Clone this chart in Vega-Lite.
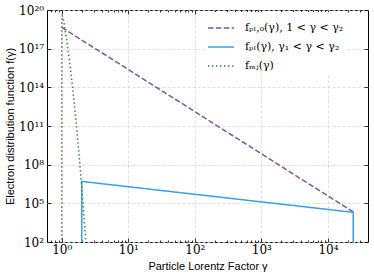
{
  "$schema": "https://vega.github.io/schema/vega-lite/v6.json",
  "width": 321,
  "height": 232,
  "autosize": {"type": "none"},
  "padding": {"left": 47, "top": 10, "right": 6, "bottom": 37},
  "background": "white",
  "config": {
    "view": {"stroke": "black", "strokeWidth": 1},
    "axis": {"domain": false}
  },
  "data": {
    "values": [
      {"s": "fₚₗ,₀(γ), 1 < γ < γ₂", "o": 0, "g": 1, "f": 4.47e18},
      {"s": "fₚₗ,₀(γ), 1 < γ < γ₂", "o": 1, "g": 24000, "f": 2.14e4},
      {"s": "fₚₗ(γ), γ₁ < γ < γ₂", "o": 0, "g": 2, "f": 1},
      {"s": "fₚₗ(γ), γ₁ < γ < γ₂", "o": 1, "g": 2, "f": 5.01e6},
      {"s": "fₚₗ(γ), γ₁ < γ < γ₂", "o": 2, "g": 24000, "f": 2.0e4},
      {"s": "fₚₗ(γ), γ₁ < γ < γ₂", "o": 3, "g": 24000, "f": 1},
      {"s": "fₘⱼ(γ)", "o": 0, "g": 1, "f": 1},
      {"s": "fₘⱼ(γ)", "o": 1, "g": 1.001, "f": 1.4e19},
      {"s": "fₘⱼ(γ)", "o": 2, "g": 1.005, "f": 2.8e19},
      {"s": "fₘⱼ(γ)", "o": 3, "g": 1.015, "f": 3.7e19},
      {"s": "fₘⱼ(γ)", "o": 4, "g": 1.03, "f": 3.3e19},
      {"s": "fₘⱼ(γ)", "o": 5, "g": 1.05, "f": 2.2e19},
      {"s": "fₘⱼ(γ)", "o": 6, "g": 1.1, "f": 6.0e18},
      {"s": "fₘⱼ(γ)", "o": 7, "g": 1.2, "f": 3.0e17},
      {"s": "fₘⱼ(γ)", "o": 8, "g": 1.3, "f": 1.3e16},
      {"s": "fₘⱼ(γ)", "o": 9, "g": 1.4, "f": 5.3e14},
      {"s": "fₘⱼ(γ)", "o": 10, "g": 1.5, "f": 2.1e13},
      {"s": "fₘⱼ(γ)", "o": 11, "g": 1.6, "f": 8.0e11},
      {"s": "fₘⱼ(γ)", "o": 12, "g": 1.7, "f": 3.0e10},
      {"s": "fₘⱼ(γ)", "o": 13, "g": 1.8, "f": 1.1e9},
      {"s": "fₘⱼ(γ)", "o": 14, "g": 1.9, "f": 4.0e7},
      {"s": "fₘⱼ(γ)", "o": 15, "g": 2.0, "f": 1.5e6},
      {"s": "fₘⱼ(γ)", "o": 16, "g": 2.1, "f": 5.5e4},
      {"s": "fₘⱼ(γ)", "o": 17, "g": 2.2, "f": 2.2e3},
      {"s": "fₘⱼ(γ)", "o": 18, "g": 2.3, "f": 100},
      {"s": "fₘⱼ(γ)", "o": 19, "g": 2.4, "f": 4}
    ]
  },
  "layer": [
    {
      "mark": {"type": "line", "clip": true, "strokeWidth": 1.5},
      "encoding": {
        "x": {
          "field": "g", "type": "quantitative",
          "scale": {"type": "log", "domain": [0.6, 40000], "nice": false},
          "axis": {
            "orient": "bottom",
            "values": [0.7,0.8,0.9,1,2,3,4,5,6,7,8,9,10,20,30,40,50,60,70,80,90,100,200,300,400,500,600,700,800,900,1000,2000,3000,4000,5000,6000,7000,8000,9000,10000,20000,30000],
            "title": "Particle Lorentz Factor γ",
            "titleFont": "Liberation Sans", "titleFontSize": 11, "titleFontWeight": "normal", "titleColor": "black",
            "titlePadding": 3,
            "labelFont": "DejaVu Serif", "labelFontSize": 12, "labelColor": "black",
            "labelOverlap": false, "labelFlush": false, "labelPadding": 6.5,
            "labelExpr": "abs(log(datum.value)/LN10 - round(log(datum.value)/LN10)) < 0.001 ? '10' + ['⁰','¹','²','³','⁴','⁵','⁶','⁷','⁸','⁹'][round(log(datum.value)/LN10)] : ''",
            "tickColor": "black", "tickWidth": 0.8,
            "tickSize": {"condition": {"test": "abs(log(datum.value)/LN10 - round(log(datum.value)/LN10)) < 0.001", "value": -4}, "value": -2},
            "grid": true, "gridColor": "#d6d6d6", "gridDash": [3, 2], "gridWidth": 0.8,
            "gridOpacity": {"condition": {"test": "abs(log(datum.value)/LN10 - round(log(datum.value)/LN10)) < 0.001", "value": 1}, "value": 0}
          }
        },
        "y": {
          "field": "f", "type": "quantitative",
          "scale": {"type": "log", "domain": [100, 1e20], "nice": false},
          "axis": {
            "orient": "left",
            "values": [1e2, 1e5, 1e8, 1e11, 1e14, 1e17, 1e20],
            "title": "Electron distribution function f(γ)",
            "titleFont": "Liberation Sans", "titleFontSize": 11, "titleFontWeight": "normal", "titleColor": "black",
            "titlePadding": 3,
            "labelFont": "DejaVu Serif", "labelFontSize": 12, "labelColor": "black",
            "labelOverlap": false, "labelFlush": false, "labelPadding": 7.5,
            "labelExpr": "'10' + (round(log(datum.value)/LN10) >= 10 ? ['⁰','¹','²','³','⁴','⁵','⁶','⁷','⁸','⁹'][floor(round(log(datum.value)/LN10)/10)] : '') + ['⁰','¹','²','³','⁴','⁵','⁶','⁷','⁸','⁹'][round(log(datum.value)/LN10) % 10]",
            "tickColor": "black", "tickWidth": 0.8, "tickSize": -4,
            "grid": true, "gridColor": "#d6d6d6", "gridDash": [3, 2], "gridWidth": 0.8
          }
        },
        "order": {"field": "o", "type": "quantitative"},
        "color": {
          "field": "s", "type": "nominal",
          "scale": {"domain": ["fₚₗ,₀(γ), 1 < γ < γ₂", "fₚₗ(γ), γ₁ < γ < γ₂", "fₘⱼ(γ)"], "range": ["#84559a", "#3a9ee8", "#3d8a3d"]},
          "legend": {
            "title": null, "orient": "none", "legendX": 158, "legendY": 2,
            "padding": 2, "fillColor": "white", "strokeColor": null,
            "symbolType": "stroke", "symbolSize": 676, "symbolStrokeWidth": 1.5,
            "rowPadding": -10.5, "labelOffset": 10,
            "labelFont": "DejaVu Serif", "labelFontSize": 11, "labelColor": "black"
          }
        },
        "strokeDash": {
          "field": "s", "type": "nominal",
          "scale": {"domain": ["fₚₗ,₀(γ), 1 < γ < γ₂", "fₚₗ(γ), γ₁ < γ < γ₂", "fₘⱼ(γ)"], "range": [[5.5, 2.4], [1, 0], [1.5, 2.5]]},
          "legend": null
        }
      }
    },
    {
      "mark": {"type": "point", "opacity": 0, "clip": true},
      "encoding": {
        "x": {
          "field": "g", "type": "quantitative",
          "scale": {"type": "log", "domain": [0.6, 40000], "nice": false},
          "axis": {
            "orient": "top",
            "values": [0.7,0.8,0.9,1,2,3,4,5,6,7,8,9,10,20,30,40,50,60,70,80,90,100,200,300,400,500,600,700,800,900,1000,2000,3000,4000,5000,6000,7000,8000,9000,10000,20000,30000],
            "title": null, "labels": false, "grid": false,
            "tickColor": "black", "tickWidth": 0.8,
            "tickSize": {"condition": {"test": "abs(log(datum.value)/LN10 - round(log(datum.value)/LN10)) < 0.001", "value": -4}, "value": -2}
          }
        },
        "y": {
          "field": "f", "type": "quantitative",
          "scale": {"type": "log", "domain": [100, 1e20], "nice": false},
          "axis": {
            "orient": "right",
            "values": [1e2, 1e5, 1e8, 1e11, 1e14, 1e17, 1e20],
            "title": null, "labels": false, "grid": false,
            "tickColor": "black", "tickWidth": 0.8, "tickSize": -4
          }
        }
      }
    }
  ],
  "resolve": {"axis": {"x": "independent", "y": "independent"}}
}
